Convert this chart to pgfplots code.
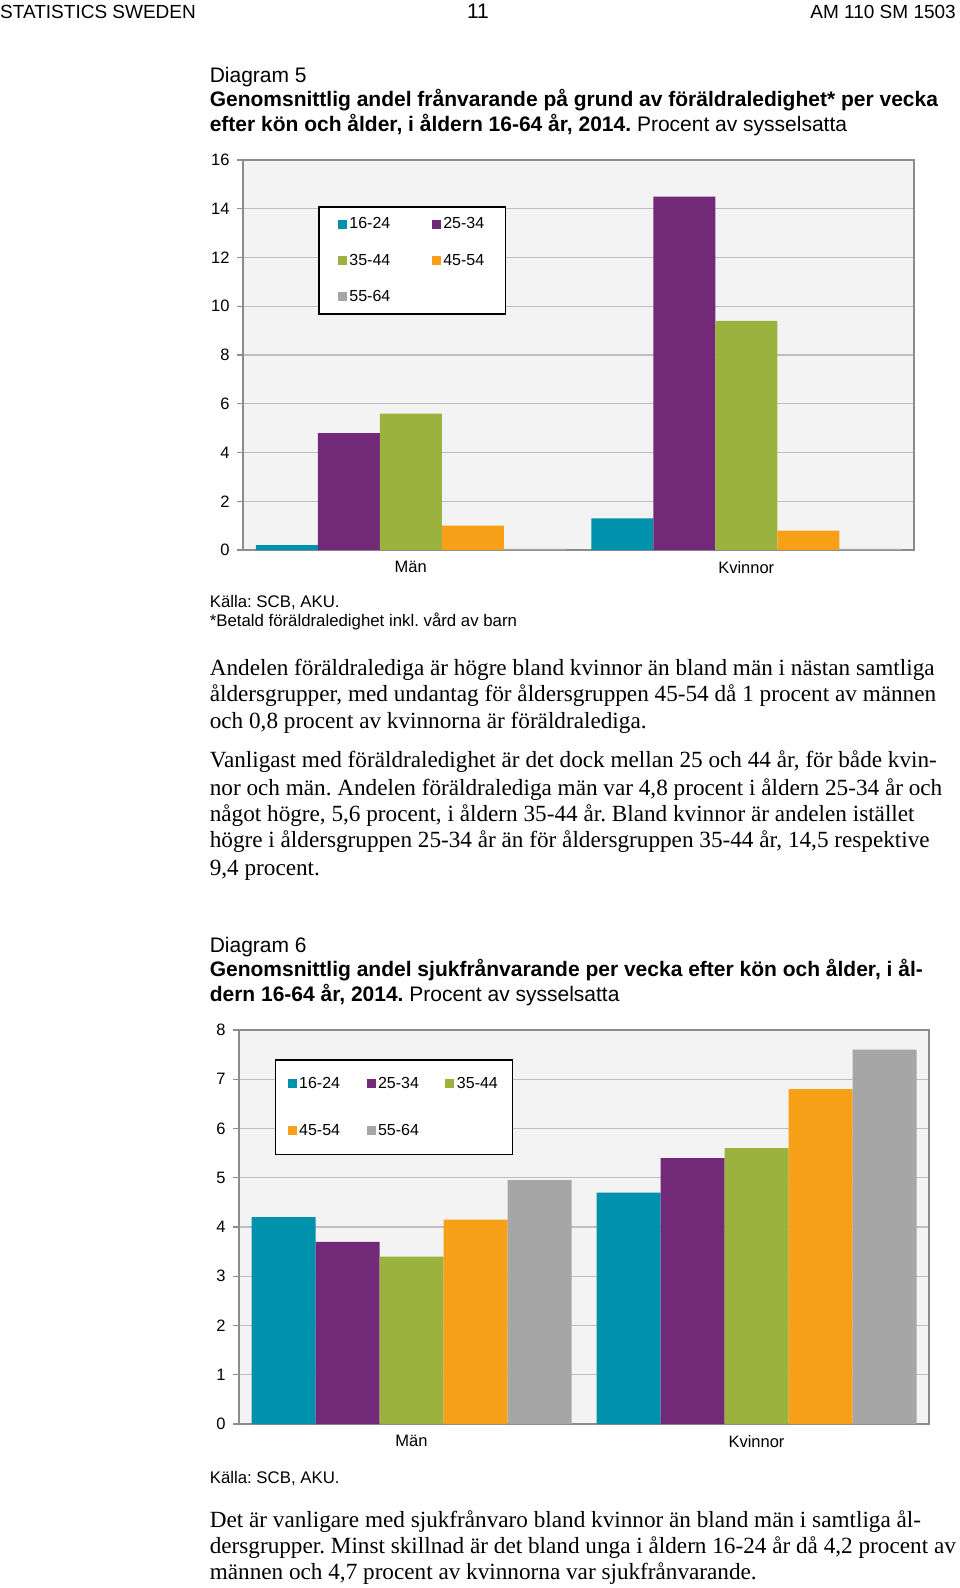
\documentclass[border=0pt]{standalone}
\usepackage{fontspec}
\setmainfont{Liberation Sans}
\newfontfamily\serif{Liberation Serif}
\usepackage{pgfplots}
\pgfplotsset{compat=1.18}
\frenchspacing
\definecolor{cA}{RGB}{0,145,172}
\definecolor{cB}{RGB}{114,41,119}
\definecolor{cC}{RGB}{155,179,62}
\definecolor{cD}{RGB}{247,160,24}
\definecolor{cE}{RGB}{166,166,166}
\definecolor{bgc}{RGB}{243,243,243}
\definecolor{gridc}{RGB}{190,190,190}
\definecolor{axc}{RGB}{140,140,140}
\pgfplotsset{
  mybar/.style={
    scale only axis, ybar=0pt, xmin=-0.5, xmax=1.5, ymin=0,
    xtick={0,1}, xticklabels={Män,Kvinnor},
    axis background/.style={fill=bgc},
    ymajorgrids, major grid style={gridc, line width=1.2pt},
    axis line style={axc, line width=1.6pt},
    ytick pos=left, xtick style={draw=none},
    tick align=outside, major tick length=6pt,
    ytick style={axc, line width=1.2pt},
    yticklabel style={font=\fontsize{16.5}{16.5}\selectfont, xshift=-4pt},
    xticklabel style={font=\fontsize{16.5}{16.5}\selectfont, yshift=-2pt},
    /pgf/number format/assume math mode=true,
    legend cell align=left,
    legend image code/.code={\fill[##1] (0pt,-4.5pt) rectangle (9pt,4.5pt);},
    legend style={draw=black, line width=1.5pt, fill=white,
      font=\fontsize{16}{16}\selectfont, anchor=north west,
      nodes={inner xsep=2.5pt, inner ysep=2pt}},
  }
}
\newcommand\tx[3]{\node[anchor=base west, inner sep=0pt] at (#1,-#2) {#3};}
\begin{document}
\begin{tikzpicture}[x=1pt,y=1pt]
\fill[white] (0,0) rectangle (960,-1588);
\path[use as bounding box] (0,0) rectangle (960,-1588);
% header
\node[anchor=base west, inner sep=0pt] at (0,-18) {\fontsize{19}{22}\selectfont STATISTICS SWEDEN};
\node[anchor=base, inner sep=0pt] at (478,-18) {\fontsize{21}{22}\selectfont 11};
\node[anchor=base east, inner sep=0pt] at (956,-18) {\fontsize{19}{22}\selectfont AM 110 SM 1503};
% diagram 5 title
\tx{209.6}{82.4}{\fontsize{21}{24}\selectfont Diagram 5}
\tx{209.6}{106.7}{\fontsize{21}{24}\selectfont\bfseries Genomsnittlig andel frånvarande på grund av föräldraledighet* per vecka}
\tx{209.6}{131}{\fontsize{21}{24}\selectfont{\bfseries efter kön och ålder, i åldern 16-64 år, 2014.} Procent av sysselsatta}
% chart 1
\begin{axis}[mybar, at={(243pt,-550pt)}, anchor=south west,
  width=671pt, height=390pt, ymax=16, ytick={0,2,...,16},
  bar width=62pt,
  legend columns=2,
  legend style={at={(0.112,0.882)}, inner xsep=19pt, inner ysep=9pt,
    row sep=19.5pt, /tikz/every even column/.append style={column sep=39pt}}]
\addplot[fill=cA, draw=none] coordinates {(0,0.2) (1,1.3)};
\addplot[fill=cB, draw=none] coordinates {(0,4.8) (1,14.5)};
\addplot[fill=cC, draw=none] coordinates {(0,5.6) (1,9.4)};
\addplot[fill=cD, draw=none] coordinates {(0,1.0) (1,0.8)};
\addplot[fill=cE, draw=none] coordinates {(0,0.05) (1,0.05)};
\legend{16-24,25-34,35-44,45-54,55-64}
\end{axis}
\tx{209.6}{607.5}{\fontsize{16.8}{20}\selectfont Källa: SCB, AKU.}
\tx{209.6}{626.8}{\fontsize{16.8}{20}\selectfont *Betald föräldraledighet inkl. vård av barn}
% paragraphs
\tx{209.6}{675.5}{\serif\fontsize{23.2}{26}\selectfont Andelen föräldralediga är högre bland kvinnor än bland män i nästan samtliga}
\tx{209.6}{701.7}{\serif\fontsize{23.2}{26}\selectfont åldersgrupper, med undantag för åldersgruppen 45-54 då 1 procent av männen}
\tx{209.6}{728}{\serif\fontsize{23.2}{26}\selectfont och 0,8 procent av kvinnorna är föräldralediga.}
\tx{209.6}{767.5}{\serif\fontsize{23.2}{26}\selectfont Vanligast med föräldraledighet är det dock mellan 25 och 44 år, för både kvin-}
\tx{209.6}{795}{\serif\fontsize{23.2}{26}\selectfont nor och män. Andelen föräldralediga män var 4,8 procent i åldern 25-34 år och}
\tx{209.6}{821}{\serif\fontsize{23.2}{26}\selectfont något högre, 5,6 procent, i åldern 35-44 år. Bland kvinnor är andelen istället}
\tx{209.6}{847.5}{\serif\fontsize{23.2}{26}\selectfont högre i åldersgruppen 25-34 år än för åldersgruppen 35-44 år, 14,5 respektive}
\tx{209.6}{875}{\serif\fontsize{23.2}{26}\selectfont 9,4 procent.}
% diagram 6 title
\tx{209.6}{952.3}{\fontsize{21}{24}\selectfont Diagram 6}
\tx{209.6}{976.7}{\fontsize{21}{24}\selectfont\bfseries Genomsnittlig andel sjukfrånvarande per vecka efter kön och ålder, i ål-}
\tx{209.6}{1001}{\fontsize{21}{24}\selectfont{\bfseries dern 16-64 år, 2014.} Procent av sysselsatta}
% chart 2
\begin{axis}[mybar, at={(239pt,-1424pt)}, anchor=south west,
  width=690pt, height=394pt, ymax=8, ytick={0,1,...,8},
  bar width=64pt,
  legend columns=3,
  legend style={at={(0.052,0.926)}, inner xsep=12pt, inner ysep=15pt,
    row sep=31pt, /tikz/every even column/.append style={column sep=24pt}}]
\addplot[fill=cA, draw=none] coordinates {(0,4.2) (1,4.7)};
\addplot[fill=cB, draw=none] coordinates {(0,3.7) (1,5.4)};
\addplot[fill=cC, draw=none] coordinates {(0,3.4) (1,5.6)};
\addplot[fill=cD, draw=none] coordinates {(0,4.15) (1,6.8)};
\addplot[fill=cE, draw=none] coordinates {(0,4.95) (1,7.6)};
\legend{16-24,25-34,35-44,45-54,55-64}
\end{axis}
\tx{209.6}{1483.5}{\fontsize{16.8}{20}\selectfont Källa: SCB, AKU.}
\tx{209.6}{1527}{\serif\fontsize{23.2}{26}\selectfont Det är vanligare med sjukfrånvaro bland kvinnor än bland män i samtliga ål-}
\tx{209.6}{1553.4}{\serif\fontsize{23.2}{26}\selectfont dersgrupper. Minst skillnad är det bland unga i åldern 16-24 år då 4,2 procent av}
\tx{209.6}{1579.7}{\serif\fontsize{23.2}{26}\selectfont männen och 4,7 procent av kvinnorna var sjukfrånvarande.}
\end{tikzpicture}
\end{document}
